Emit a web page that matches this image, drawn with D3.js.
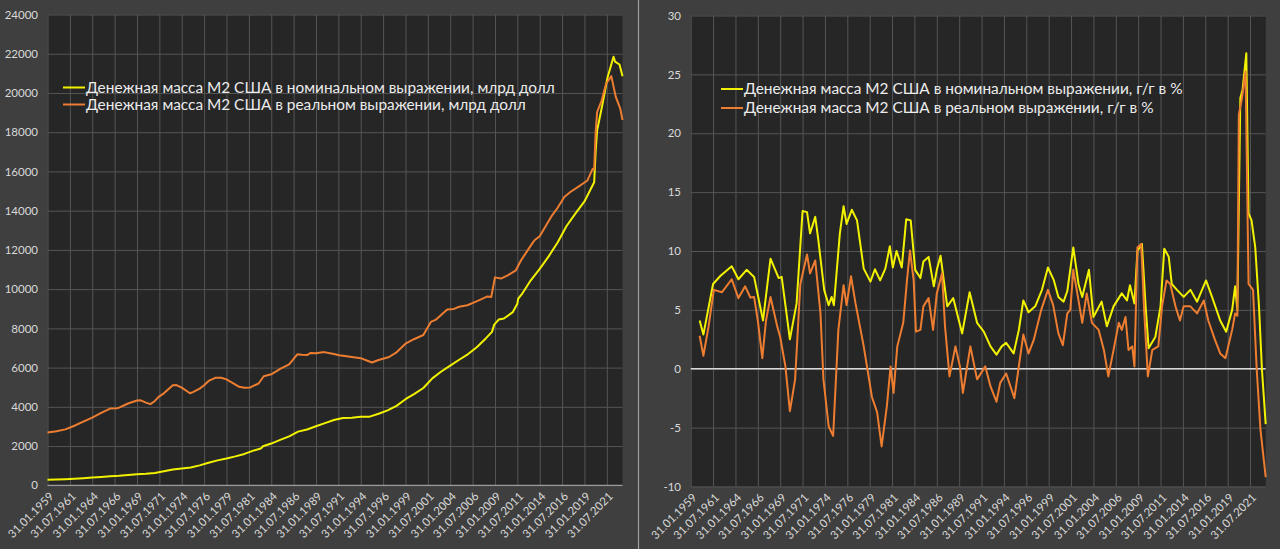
<!DOCTYPE html>
<html><head><meta charset="utf-8">
<script src="https://cdn.jsdelivr.net/npm/d3@7"></script>
<style>
html,body{margin:0;padding:0;background:#3f3f3f;overflow:hidden;}
svg{display:block;font-family:Lato,"Open Sans",sans-serif;}
</style></head><body>
<svg id="chart" width="1280" height="549"></svg>
<script>
// ---------- DATA ----------
const categoryStart = "1959-01";
const categoryEnd = "2023-04";
const xTickLabels = ["31.01.1959","31.07.1961","31.01.1964","31.07.1966","31.01.1969","31.07.1971","31.01.1974","31.07.1976","31.01.1979","31.07.1981","31.01.1984","31.07.1986","31.01.1989","31.07.1991","31.01.1994","31.07.1996","31.01.1999","31.07.2001","31.01.2004","31.07.2006","31.01.2009","31.07.2011","31.01.2014","31.07.2016","31.01.2019","31.07.2021"];
const levelTicks = [0,2000,4000,6000,8000,10000,12000,14000,16000,18000,20000,22000,24000];
const yoyTicks = [-10,-5,0,5,10,15,20,25,30];
const legendLevel = ["Денежная масса М2 США в номинальном выражении, млрд долл","Денежная масса М2 США в реальном выражении, млрд долл"];
const legendYoY = ["Денежная масса М2 США в номинальном выражении, г/г в %","Денежная масса М2 США в реальном выражении, г/г в %"];

const nominalLevel = [["1959-01",287],["1960-01",299],["1961-01",313],["1962-01",336],["1963-01",364],["1964-01",393],["1965-01",425],["1966-01",460],["1967-01",481],["1968-01",525],["1969-01",567],["1970-01",588],["1971-01",628],["1972-01",711],["1973-01",802],["1974-01",856],["1975-01",906],["1976-01",1016],["1977-01",1152],["1978-01",1270],["1979-01",1366],["1980-01",1475],["1981-01",1600],["1982-01",1766],["1982-11",1880],["1983-02",1990],["1984-01",2128],["1985-01",2313],["1986-01",2496],["1987-01",2737],["1988-01",2844],["1989-01",3010],["1990-01",3170],["1991-01",3326],["1992-01",3434],["1993-01",3445],["1994-01",3500],["1995-01",3500],["1996-01",3650],["1997-01",3820],["1998-01",4050],["1999-01",4390],["2000-01",4660],["2001-01",4960],["2002-01",5450],["2003-01",5800],["2004-01",6100],["2005-01",6400],["2006-01",6690],["2007-01",7050],["2008-01",7500],["2008-09",7820],["2008-12",8190],["2009-06",8450],["2010-01",8500],["2011-01",8830],["2011-07",9250],["2011-08",9500],["2012-01",9740],["2013-01",10450],["2014-01",11030],["2015-01",11670],["2016-01",12380],["2017-01",13220],["2018-01",13860],["2019-01",14470],["2020-02",15450],["2020-04",17000],["2020-06",18100],["2021-01",19400],["2021-08",20800],["2022-04",21850],["2022-06",21600],["2022-12",21450],["2023-04",20850]];

const realLevel = [["1959-01",2690],["1960-01",2760],["1961-01",2850],["1962-01",3035],["1963-01",3245],["1964-01",3450],["1965-01",3690],["1966-01",3910],["1966-10",3930],["1967-01",3960],["1968-01",4170],["1969-01",4320],["1969-06",4330],["1970-01",4215],["1970-07",4140],["1971-01",4300],["1971-06",4510],["1972-01",4690],["1973-01",5100],["1973-06",5110],["1974-01",4980],["1974-12",4690],["1975-04",4750],["1976-01",4930],["1976-07",5100],["1977-01",5320],["1977-10",5480],["1978-06",5480],["1979-01",5400],["1980-01",5130],["1980-06",5020],["1981-01",4970],["1981-09",4990],["1982-01",5070],["1982-08",5190],["1983-03",5560],["1984-01",5660],["1985-01",5930],["1986-01",6160],["1986-12",6680],["1987-06",6650],["1988-01",6640],["1988-06",6750],["1989-01",6730],["1989-12",6790],["1990-06",6740],["1991-01",6690],["1991-08",6630],["1992-06",6580],["1993-01",6540],["1994-01",6480],["1995-04",6260],["1996-01",6390],["1997-03",6540],["1998-01",6780],["1999-01",7220],["2000-01",7460],["2001-01",7660],["2001-11",8330],["2002-06",8450],["2003-09",8960],["2004-06",8990],["2005-01",9100],["2005-12",9180],["2007-01",9390],["2008-03",9630],["2008-08",9600],["2009-01",10600],["2009-09",10540],["2010-06",10700],["2011-05",10960],["2011-12",11470],["2013-01",12220],["2013-06",12490],["2014-01",12700],["2015-04",13670],["2016-01",14150],["2016-10",14700],["2017-06",14950],["2018-04",15200],["2019-05",15540],["2019-12",16130],["2020-02",16110],["2020-04",17990],["2020-06",19030],["2020-12",19610],["2021-06",20470],["2022-01",20860],["2022-07",19800],["2023-01",19200],["2023-04",18620]];

const nominalYoY = [["1960-01",4.1],["1960-06",2.9],["1961-07",7.2],["1962-05",7.9],["1963-08",8.7],["1964-05",7.6],["1965-04",8.4],["1966-02",7.8],["1967-02",4.1],["1967-12",9.35],["1968-11",7.7],["1969-03",7.8],["1970-02",2.5],["1970-11",5.55],["1971-07",13.4],["1972-01",13.3],["1972-05",11.5],["1972-12",12.9],["1973-04",11.0],["1973-12",6.7],["1974-06",5.4],["1974-10",6.1],["1975-01",5.4],["1975-09",11.5],["1976-02",13.8],["1976-06",12.3],["1977-01",13.5],["1977-08",12.6],["1978-05",8.5],["1979-02",7.4],["1979-08",8.45],["1980-03",7.5],["1980-10",8.5],["1981-04",10.4],["1981-08",8.6],["1982-01",10.0],["1982-08",8.6],["1983-02",12.7],["1983-08",12.6],["1984-02",8.4],["1984-09",7.7],["1985-01",9.1],["1985-08",9.5],["1986-03",7.0],["1986-07",8.4],["1986-12",9.6],["1987-09",5.3],["1988-05",6.0],["1989-05",3.0],["1990-03",6.5],["1991-01",3.9],["1991-10",3.15],["1992-07",1.9],["1993-03",1.2],["1993-10",1.9],["1994-04",2.2],["1995-02",1.3],["1995-09",3.3],["1996-03",5.8],["1996-10",4.8],["1997-07",5.3],["1998-04",6.7],["1998-12",8.6],["1999-08",7.5],["2000-02",6.1],["2000-09",5.7],["2001-02",6.6],["2001-10",10.3],["2002-05",7.2],["2002-10",6.1],["2003-07",8.4],["2004-01",4.4],["2004-12",5.7],["2005-07",3.6],["2006-04",5.3],["2007-03",6.4],["2007-10",5.8],["2008-02",7.1],["2008-08",5.55],["2008-12",10.0],["2009-06",10.6],["2009-11",5.3],["2010-03",1.75],["2010-12",2.7],["2011-07",5.3],["2011-12",10.2],["2012-06",9.5],["2012-10",7.2],["2013-05",6.7],["2014-02",6.1],["2014-11",6.7],["2015-08",5.7],["2016-08",7.5],["2017-04",6.1],["2018-03",4.1],["2018-11",3.15],["2019-07",5.0],["2019-11",7.0],["2020-02",5.0],["2020-06",23.0],["2020-09",23.7],["2021-02",26.8],["2021-05",13.2],["2021-09",12.6],["2022-02",10.3],["2022-07",5.3],["2022-11",-0.1],["2023-04",-4.7]];

const realYoY = [["1960-01",2.8],["1960-06",1.1],["1961-01",3.6],["1961-08",6.7],["1962-07",6.5],["1963-08",7.6],["1964-05",6.0],["1965-02",7.0],["1965-09",6.05],["1966-02",6.1],["1966-07",4.1],["1967-01",0.9],["1967-06",4.1],["1967-12",6.1],["1968-09",3.6],["1969-01",2.7],["1969-08",0.2],["1970-02",-3.6],["1970-09",-0.9],["1971-04",7.2],["1972-01",9.7],["1972-05",8.1],["1972-12",9.2],["1973-07",4.7],["1973-11",-0.9],["1974-06",-4.9],["1974-12",-5.7],["1975-07",3.3],["1976-02",7.1],["1976-06",5.4],["1976-12",7.85],["1977-06",5.55],["1978-05",1.9],["1979-04",-2.4],["1979-11",-3.7],["1980-05",-6.6],["1980-12",-3.2],["1981-05",0.2],["1981-09",-2.05],["1982-02",1.9],["1982-10",3.9],["1983-03",7.5],["1983-07",10.05],["1983-12",7.5],["1984-03",3.15],["1984-09",3.3],["1985-01",5.3],["1985-08",6.0],["1986-02",3.3],["1986-07",6.4],["1987-02",8.1],["1987-06",3.6],["1987-12",-0.65],["1988-08",1.9],["1989-02",0.2],["1989-06",-2.05],["1990-04",1.9],["1991-01",-0.9],["1991-12",0.2],["1992-07",-1.5],["1993-03",-2.8],["1993-08",-1.2],["1994-04",-0.4],["1995-03",-2.5],["1995-09",0.2],["1996-03",2.9],["1996-10",1.3],["1997-05",2.45],["1998-03",5.0],["1998-12",6.7],["1999-07",5.4],["2000-02",3.0],["2000-08",2.0],["2001-02",4.7],["2001-06",5.0],["2001-10",8.4],["2002-05",5.8],["2002-10",3.9],["2003-04",6.4],["2003-11",3.9],["2004-08",3.3],["2005-03",1.6],["2005-09",-0.65],["2006-04",1.6],["2006-11",3.9],["2007-03",3.3],["2007-08",4.4],["2007-12",1.6],["2008-05",1.9],["2008-08",0.2],["2008-12",10.3],["2009-05",10.6],["2009-09",5.0],["2010-02",-0.65],["2010-08",1.6],["2011-04",1.9],["2011-09",5.3],["2012-03",7.5],["2012-08",7.2],["2013-03",5.3],["2013-09",4.1],["2014-02",5.3],["2014-11",5.3],["2015-08",4.7],["2016-05",5.8],["2016-11",4.1],["2017-08",2.45],["2018-03",1.3],["2018-10",0.9],["2019-07",3.3],["2019-11",4.7],["2020-02",4.5],["2020-04",21.6],["2020-08",22.9],["2021-01",25.25],["2021-05",7.2],["2021-11",6.7],["2022-04",-0.1],["2022-09",-5.2],["2023-04",-9.2]];

// ---------- DRAWING ----------
const YELLOW = "#f2f200", ORANGE = "#ed7d31";
function monthIndex(s){ const [y,m] = s.split("-").map(Number); return (y-1959)*12 + (m-1); }
function labelIndex(l){ const p = l.split(".").map(Number); return (p[2]-1959)*12 + (p[1]-1); }
const nCat = monthIndex(categoryEnd) - monthIndex(categoryStart);

const svg = d3.select("#chart");
svg.append("rect").attr("width",1280).attr("height",549).attr("fill","#3f3f3f");
svg.append("line").attr("x1",638.5).attr("x2",638.5).attr("y1",0).attr("y2",549)
   .attr("stroke","#a0a0a0").attr("stroke-width",1.2);

function panel(cfg){
  const g = svg.append("g");
  const x = d3.scaleLinear().domain([0,nCat]).range([cfg.x0,cfg.x1]);
  const y = d3.scaleLinear().domain(cfg.domain).range([cfg.y1,cfg.y0]);
  g.append("rect").attr("x",cfg.x0).attr("y",cfg.y0).attr("width",cfg.x1-cfg.x0).attr("height",cfg.y1-cfg.y0).attr("fill","#262626");

  // horizontal gridlines + labels
  const ya = d3.axisLeft(y).tickValues(cfg.ticks).tickSize(-(cfg.x1-cfg.x0)).tickPadding(cfg.x0-cfg.labelX).tickFormat(d=>String(d));
  const yg = g.append("g").attr("transform",`translate(${cfg.x0},0)`).call(ya);
  yg.select(".domain").remove();
  yg.selectAll(".tick line").attr("stroke","#555555").attr("stroke-width",1);
  yg.selectAll(".tick text").attr("fill","#d9d9d9").style("font-size","11.5px").style("font-family","Lato");

  // vertical gridlines
  const xa = d3.axisBottom(x).tickValues(xTickLabels.map(labelIndex)).tickSize(-(cfg.y1-cfg.y0)).tickFormat("");
  const xg = g.append("g").attr("transform",`translate(0,${cfg.y1})`).call(xa);
  xg.select(".domain").remove();
  xg.selectAll(".tick line").attr("stroke","#555555").attr("stroke-width",1);

  // axis / zero line
  g.append("line").attr("x1",cfg.x0).attr("x2",cfg.x1).attr("y1",y(0)).attr("y2",y(0))
    .attr("stroke",cfg.zeroColor).attr("stroke-width",1.3);

  // rotated x labels
  g.append("g").selectAll("text").data(xTickLabels).join("text")
    .attr("transform",d=>`translate(${x(labelIndex(d))+4},${cfg.y1+9}) rotate(-45)`)
    .attr("text-anchor","end").attr("dy","0.35em")
    .attr("fill","#d9d9d9").style("font-size","11.5px").text(d=>d);

  // series
  const line = d3.line().x(d=>x(monthIndex(d[0]))).y(d=>y(d[1]));
  cfg.series.forEach(s=>{
    g.append("path").datum(s.data).attr("d",line).attr("fill","none")
      .attr("stroke",s.color).attr("stroke-width",2).attr("stroke-linejoin","round");
  });

  // legend
  const lg = g.append("g");
  cfg.legend.forEach((t,i)=>{
    const yy = cfg.legY[i];
    lg.append("line").attr("x1",cfg.legX[0]).attr("x2",cfg.legX[1]).attr("y1",yy).attr("y2",yy)
      .attr("stroke",cfg.series[i].color).attr("stroke-width",2);
    lg.append("text").attr("class","leg").attr("x",cfg.legX[1]+1).attr("y",yy).attr("dy","0.35em")
      .attr("fill","#ececec").style("font-size","16px").text(t);
  });
  const first = lg.select("text.leg").node();
  const fs = 16*cfg.legWidth/first.getComputedTextLength();
  lg.selectAll("text.leg").style("font-size",fs+"px");
}

panel({x0:47.5,x1:622.5,y0:14.5,y1:485.3,domain:[0,24000],ticks:levelTicks,labelX:38,zeroColor:"#9a9a9a",
  series:[{data:nominalLevel,color:YELLOW},{data:realLevel,color:ORANGE}],
  legend:legendLevel,legX:[63,85],legY:[87.5,104.5],legWidth:469});
panel({x0:690.7,x1:1265.7,y0:15.5,y1:486.5,domain:[-10,30],ticks:yoyTicks,labelX:681,zeroColor:"#d9d9d9",
  series:[{data:nominalYoY,color:YELLOW},{data:realYoY,color:ORANGE}],
  legend:legendYoY,legX:[721,743],legY:[89,108],legWidth:439});
</script>
</body></html>
